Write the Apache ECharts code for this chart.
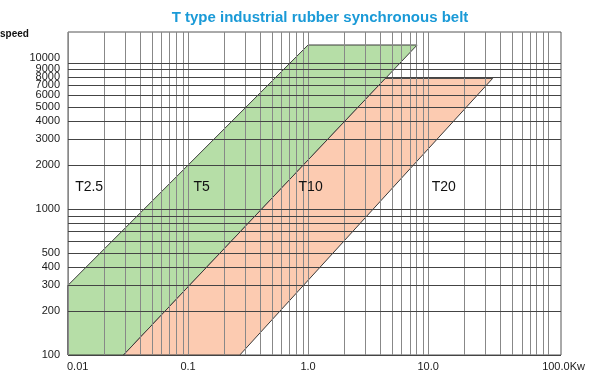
<!DOCTYPE html>
<html><head><meta charset="utf-8">
<script src="https://cdn.jsdelivr.net/npm/echarts@6/dist/echarts.min.js"></script>
<style>html,body{margin:0;padding:0;background:#fff}#c{width:595px;height:380px}</style>
</head><body><div id="c"></div>
<script>
const titleText = 'T type industrial rubber synchronous belt';
const yAxisTitle = 'speed';

// Region outlines: power (kW) vs speed
const t5PowerKw = [0.01, 0.01, 1.0, 8.1, 0.029];
const t5Speed   = [100, 300, 13200, 13200, 100];
const t10PowerKw = [0.029, 4.4, 34.5, 0.27];
const t10Speed   = [100, 7800, 7800, 100];

// Region names and where they are written
const regionNames = ['T2.5', 'T5', 'T10', 'T20'];
const regionKw    = [0.015, 0.13, 1.05, 13.5];
const regionSpeed = [1400, 1400, 1400, 1400];

// Grid lines
const xGridKw = [0.01,0.02,0.03,0.04,0.05,0.06,0.07,0.08,0.09,
                 0.1,0.2,0.3,0.4,0.5,0.6,0.7,0.8,0.9,
                 1,2,3,4,5,6,7,8,9,
                 10,20,30,40,50,60,70,80,90,100];
const yGridSpeed = [100,200,300,400,500,600,700,800,900,
                    1000,2000,3000,4000,5000,6000,7000,8000,9000,10000];

// Tick labels
const xTickKw = [0.01, 0.1, 1, 10, 100];
const xTickLabels = ['0.01', '0.1', '1.0', '10.0', '100.0Kw'];
const yTickSpeed = [100,200,300,400,500,1000,2000,3000,4000,5000,6000,7000,8000,9000,10000];

// Axis extents
const xMin = 0.01, xMax = 128;
const yMin = 100, yMax = 16200;

const FONT = 'Liberation Sans, Arial, sans-serif';

function polygonSeries(xs, ys, fill) {
  return {
    type: 'custom', z: 2, silent: true, clip: false,
    data: xs.map((x, i) => [x, ys[i]]),
    renderItem(params, api) {
      if (params.dataIndex !== 0) return null;
      const pts = xs.map((x, i) => api.coord([x, ys[i]]));
      return { type: 'polygon', shape: { points: pts },
               style: { fill: fill, stroke: '#3a3a3a', lineWidth: 1 } };
    }
  };
}

const chart = echarts.init(document.getElementById('c'), null, { renderer: 'canvas' });
chart.setOption({
  animation: false,
  backgroundColor: '#fff',
  title: {
    text: titleText, left: 315, textAlign: 'center', top: 5,
    textStyle: { color: '#1a9ad7', fontSize: 15, fontWeight: 'bold', fontFamily: FONT }
  },
  graphic: [{
    type: 'text', left: 0, top: 29,
    style: { text: yAxisTitle, fontSize: 10, fontWeight: 'bold', fontFamily: FONT, fill: '#111' }
  }],
  grid: { left: 68, top: 32, width: 493, height: 323, show: true,
          borderColor: '#555', borderWidth: 1, backgroundColor: 'transparent' },
  xAxis: { type: 'log', logBase: 10, min: xMin, max: xMax,
           axisLine: { show: false }, axisTick: { show: false },
           axisLabel: { show: false }, splitLine: { show: false } },
  yAxis: { type: 'log', logBase: 10, min: yMin, max: yMax,
           axisLine: { show: false }, axisTick: { show: false },
           axisLabel: { show: false }, splitLine: { show: false } },
  series: [
    polygonSeries(t5PowerKw, t5Speed, '#b6dea7'),
    polygonSeries(t10PowerKw, t10Speed, '#fccbb1'),
    {
      type: 'custom', z: 3, silent: true, clip: false,
      data: xGridKw.map(v => [v, yMin]),
      renderItem(params, api) {
        const cs = params.coordSys;
        const x = Math.round(api.coord([api.value(0), yMin])[0]) + 0.5;
        return { type: 'line', shape: { x1: x, y1: cs.y, x2: x, y2: cs.y + cs.height },
                 style: { stroke: '#888888', lineWidth: 1 } };
      }
    },
    {
      type: 'custom', z: 3, silent: true, clip: false,
      data: yGridSpeed.map(v => [xMin, v]),
      renderItem(params, api) {
        const cs = params.coordSys;
        const y = Math.round(api.coord([xMin, api.value(1)])[1]) + 0.5;
        return { type: 'line', shape: { x1: cs.x, y1: y, x2: cs.x + cs.width, y2: y },
                 style: { stroke: '#444444', lineWidth: 1 } };
      }
    },
    {
      type: 'custom', z: 4, silent: true, clip: false,
      data: yTickSpeed.map(v => [xMin, v]),
      renderItem(params, api) {
        const cs = params.coordSys;
        const i = params.dataIndex;
        const y = api.coord([xMin, api.value(1)])[1];
        const top = i === yTickSpeed.length - 1;   // topmost label sits above its line (crowded decade)
        return { type: 'text', x: cs.x - 8, y: top ? y + 1 : y,
                 style: { text: String(yTickSpeed[i]), align: 'right', verticalAlign: top ? 'bottom' : 'middle',
                          fontSize: 11, fontFamily: FONT, fill: '#1a1a1a' } };
      }
    },
    {
      type: 'custom', z: 4, silent: true, clip: false,
      data: xTickKw.map(v => [v, yMin]),
      renderItem(params, api) {
        const cs = params.coordSys;
        const i = params.dataIndex;
        const x = api.coord([api.value(0), yMin])[0];
        const last = i === xTickKw.length - 1;
        return { type: 'text', x: i === 0 ? x - 1 : (last ? x - 6 : x), y: cs.y + cs.height + 6,
                 style: { text: xTickLabels[i], align: (i === 0 || last) ? 'left' : 'center',
                          verticalAlign: 'top', fontSize: 11, fontFamily: FONT, fill: '#1a1a1a' } };
      }
    },
    {
      type: 'custom', z: 5, silent: true, clip: false,
      data: regionKw.map((x, i) => [x, regionSpeed[i]]),
      renderItem(params, api) {
        const p = api.coord([api.value(0), api.value(1)]);
        return { type: 'text', x: p[0], y: p[1],
                 style: { text: regionNames[params.dataIndex], align: 'center', verticalAlign: 'middle',
                          fontSize: 14, fontFamily: FONT, fill: '#111' } };
      }
    }
  ]
});
</script></body></html>
